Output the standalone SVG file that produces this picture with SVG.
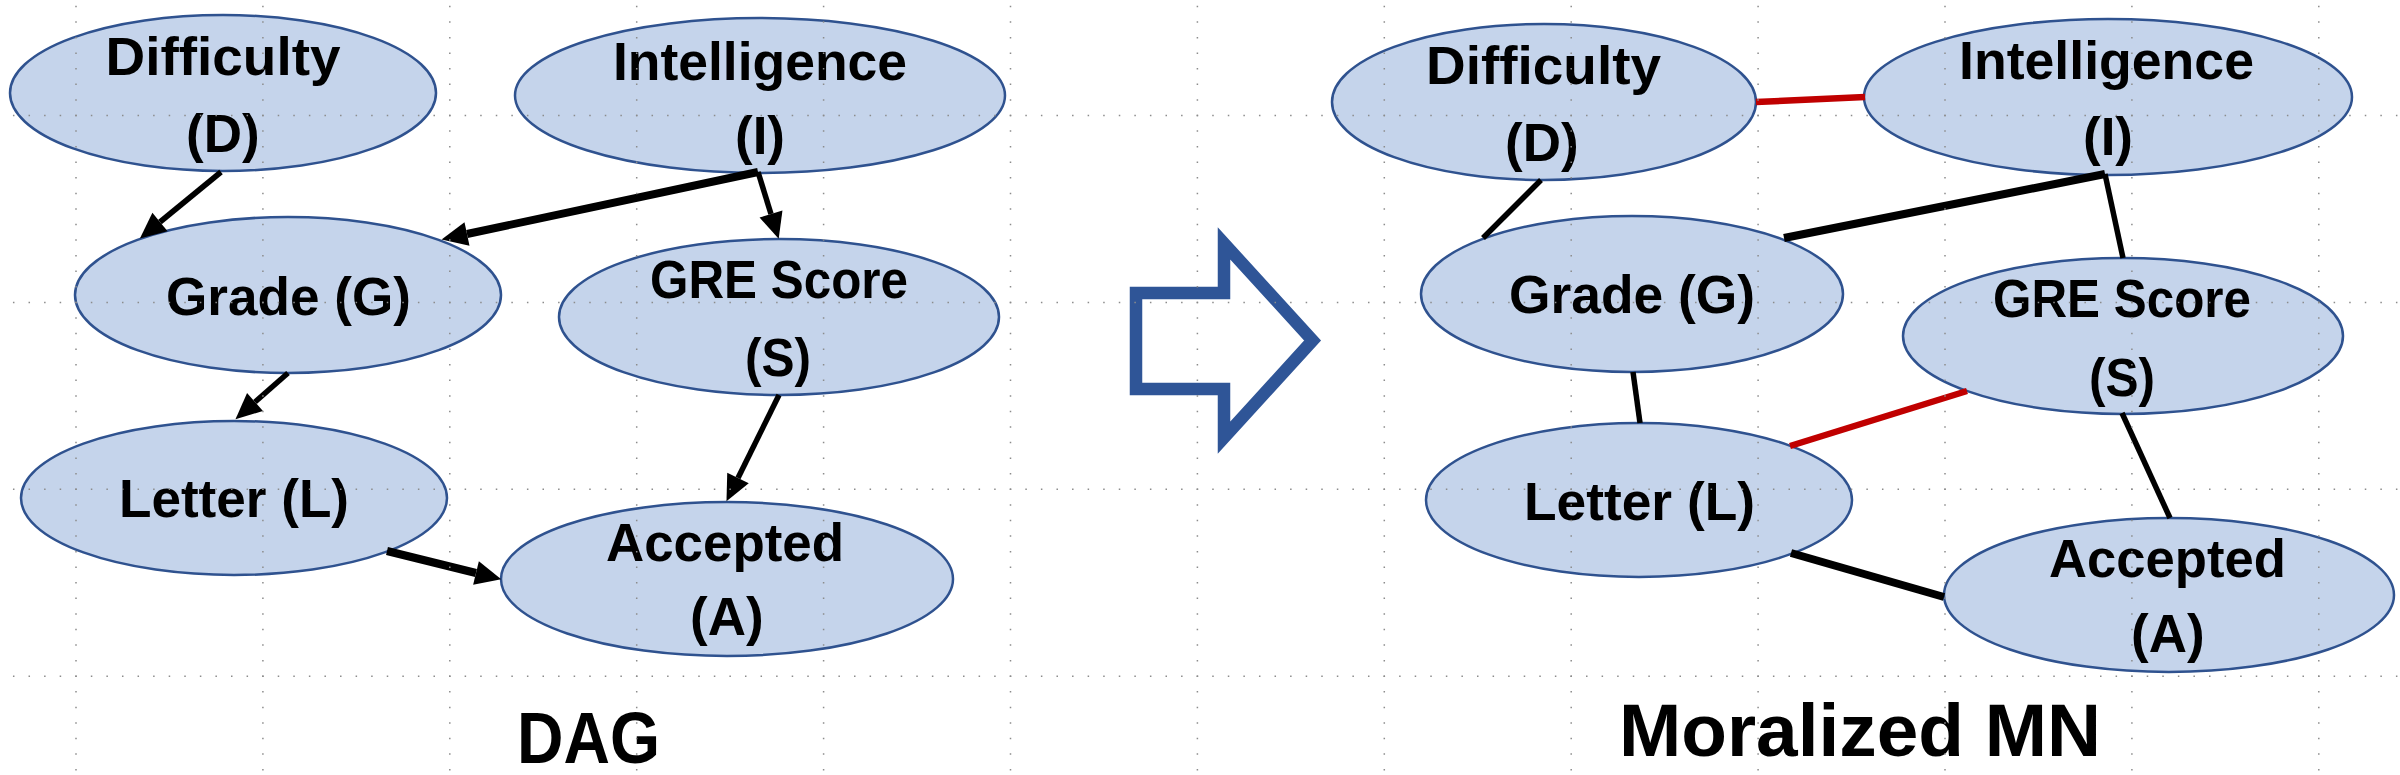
<svg xmlns="http://www.w3.org/2000/svg" width="2400" height="775" viewBox="0 0 2400 775">
<style>
.node ellipse{fill:#C5D4EB;stroke:#2F528F;stroke-width:2.5}
.lbl{font-family:"Liberation Sans",Arial,sans-serif;font-weight:bold;font-size:53px;fill:#000}
.title{font-family:"Liberation Sans",Arial,sans-serif;font-weight:bold;fill:#000}
.e{stroke:#000;stroke-width:5.5;fill:none}
.thick{stroke-width:8}
.red{stroke:#C00000;stroke-width:6.5}
.gv{stroke:#8c8c8c;stroke-width:1.5;stroke-dasharray:1.5 14.075}
</style>
<defs>
<marker id="ah" markerUnits="userSpaceOnUse" markerWidth="27" markerHeight="24" refX="0" refY="12" orient="auto" overflow="visible">
<path d="M0,0 L26,12 L0,24 z" fill="#000"/>
</marker>
</defs>
<rect width="2400" height="775" fill="#fff"/>

<g id="left-D" class="node"><ellipse cx="223" cy="93" rx="213" ry="78"/>
<text class="lbl" x="105.5" y="75" textLength="235" lengthAdjust="spacingAndGlyphs">Difficulty</text>
<text class="lbl" x="186" y="152">(D)</text></g>
<g id="left-I" class="node"><ellipse cx="760" cy="95.5" rx="245" ry="77.5"/>
<text class="lbl" x="613" y="80" textLength="294" lengthAdjust="spacingAndGlyphs">Intelligence</text>
<text class="lbl" x="735" y="154">(I)</text></g>
<g id="left-G" class="node"><ellipse cx="288" cy="295" rx="213" ry="78"/>
<text class="lbl" x="166" y="315" textLength="245" lengthAdjust="spacingAndGlyphs">Grade (G)</text></g>
<g id="left-S" class="node"><ellipse cx="779" cy="317" rx="220" ry="78"/>
<text class="lbl" x="650" y="298" textLength="258" lengthAdjust="spacingAndGlyphs">GRE Score</text>
<text class="lbl" x="745" y="376" textLength="66" lengthAdjust="spacingAndGlyphs">(S)</text></g>
<g id="left-L" class="node"><ellipse cx="234" cy="498" rx="213" ry="77"/>
<text class="lbl" x="119" y="517" textLength="230" lengthAdjust="spacingAndGlyphs">Letter (L)</text></g>
<g id="left-A" class="node"><ellipse cx="727" cy="579" rx="226" ry="77"/>
<text class="lbl" x="606" y="561" textLength="238" lengthAdjust="spacingAndGlyphs">Accepted</text>
<text class="lbl" x="690" y="635">(A)</text></g>

<g id="arrow">
<polygon points="1136,293 1224,293 1224,243.4 1312.6,340.5 1224,437.6 1224,389 1136,389" fill="none" stroke="#2F5597" stroke-width="12.5" stroke-linejoin="miter"/>
</g>

<g id="right-D" class="node"><ellipse cx="1544" cy="102" rx="212" ry="78"/>
<text class="lbl" x="1426" y="84" textLength="235" lengthAdjust="spacingAndGlyphs">Difficulty</text>
<text class="lbl" x="1505" y="161">(D)</text></g>
<g id="right-I" class="node"><ellipse cx="2108" cy="97" rx="244" ry="78"/>
<text class="lbl" x="1959" y="79" textLength="295" lengthAdjust="spacingAndGlyphs">Intelligence</text>
<text class="lbl" x="2083" y="155">(I)</text></g>
<g id="right-G" class="node"><ellipse cx="1632" cy="294" rx="211" ry="78"/>
<text class="lbl" x="1509" y="313" textLength="246" lengthAdjust="spacingAndGlyphs">Grade (G)</text></g>
<g id="right-S" class="node"><ellipse cx="2123" cy="336" rx="220" ry="78"/>
<text class="lbl" x="1993" y="317" textLength="258" lengthAdjust="spacingAndGlyphs">GRE Score</text>
<text class="lbl" x="2089" y="396" textLength="66" lengthAdjust="spacingAndGlyphs">(S)</text></g>
<g id="right-L" class="node"><ellipse cx="1639" cy="500" rx="213" ry="77"/>
<text class="lbl" x="1524" y="520" textLength="231" lengthAdjust="spacingAndGlyphs">Letter (L)</text></g>
<g id="right-A" class="node"><ellipse cx="2169" cy="595" rx="225" ry="77"/>
<text class="lbl" x="2049" y="577" textLength="237" lengthAdjust="spacingAndGlyphs">Accepted</text>
<text class="lbl" x="2131" y="652">(A)</text></g>

<g id="connectors">
<line class="e" x1="221" y1="172" x2="160" y2="222" marker-end="url(#ah)"/>
<line class="e thick" x1="758" y1="172" x2="467" y2="234" marker-end="url(#ah)"/>
<line class="e" x1="758" y1="172" x2="771" y2="214" marker-end="url(#ah)"/>
<line class="e" x1="288" y1="373" x2="255" y2="402" marker-end="url(#ah)"/>
<line class="e" x1="779" y1="395" x2="738" y2="478" marker-end="url(#ah)"/>
<line class="e thick" x1="387" y1="551" x2="476" y2="573" marker-end="url(#ah)"/>

<line class="e red" x1="1756" y1="102" x2="1865" y2="97"/>
<line class="e" x1="1541" y1="180" x2="1483" y2="238"/>
<line class="e thick" x1="2105" y1="174" x2="1784" y2="238"/>
<line class="e" x1="2105" y1="174" x2="2123" y2="258"/>
<line class="e" x1="1633" y1="372" x2="1640" y2="423"/>
<line class="e red" x1="1967" y1="391" x2="1790" y2="446"/>
<line class="e" x1="2122" y1="413" x2="2170" y2="518"/>
<line class="e thick" x1="1791" y1="553" x2="1944" y2="597"/>
</g>

<g id="titles">
<text class="title" x="517" y="763" font-size="72" textLength="143" lengthAdjust="spacingAndGlyphs">DAG</text>
<text class="title" x="1619" y="756" font-size="74" textLength="482" lengthAdjust="spacingAndGlyphs">Moralized MN</text>
</g>

<g id="grid">
<line class="gv" x1="76" y1="5.75" x2="76" y2="775"/>
<line class="gv" x1="262.9" y1="5.75" x2="262.9" y2="775"/>
<line class="gv" x1="449.8" y1="5.75" x2="449.8" y2="775"/>
<line class="gv" x1="636.7" y1="5.75" x2="636.7" y2="775"/>
<line class="gv" x1="823.6" y1="5.75" x2="823.6" y2="775"/>
<line class="gv" x1="1010.5" y1="5.75" x2="1010.5" y2="775"/>
<line class="gv" x1="1197.4" y1="5.75" x2="1197.4" y2="775"/>
<line class="gv" x1="1384.3" y1="5.75" x2="1384.3" y2="775"/>
<line class="gv" x1="1571.2" y1="5.75" x2="1571.2" y2="775"/>
<line class="gv" x1="1758.1" y1="5.75" x2="1758.1" y2="775"/>
<line class="gv" x1="1945" y1="5.75" x2="1945" y2="775"/>
<line class="gv" x1="2131.9" y1="5.75" x2="2131.9" y2="775"/>
<line class="gv" x1="2318.8" y1="5.75" x2="2318.8" y2="775"/>
<line class="gv" x1="12.95" y1="115.5" x2="2400" y2="115.5"/>
<line class="gv" x1="12.95" y1="302.4" x2="2400" y2="302.4"/>
<line class="gv" x1="12.95" y1="489.3" x2="2400" y2="489.3"/>
<line class="gv" x1="12.95" y1="676.2" x2="2400" y2="676.2"/>
</g>
</svg>
